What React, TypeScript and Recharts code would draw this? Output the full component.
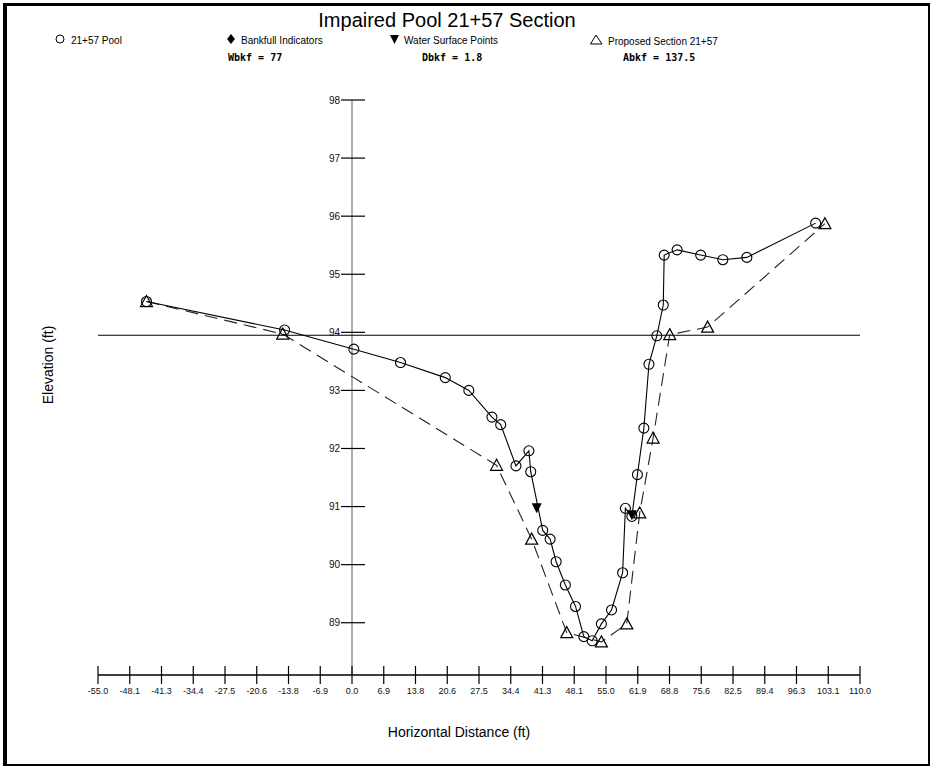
import { ComposedChart, Line, Scatter, XAxis, YAxis, ReferenceLine } from 'recharts';

// surveyed pool cross-section (ft)
const poolX = [-44.5, -14.6, 0.4, 10.5, 20.2, 25.3, 30.3, 32.2, 35.5, 38.3, 38.7, 41.3, 42.9, 44.2, 46.2, 48.4, 50.2, 52.0, 54.0, 56.2, 58.6, 59.2, 60.6, 61.8, 63.2, 64.3, 66.0, 67.4, 67.6, 70.4, 75.5, 80.3, 85.5, 100.4];
const poolY = [94.53, 94.04, 93.71, 93.48, 93.22, 93.0, 92.54, 92.41, 91.7, 91.96, 91.6, 90.59, 90.44, 90.05, 89.65, 89.28, 88.76, 88.69, 88.98, 89.22, 89.86, 90.97, 90.83, 91.55, 92.35, 93.45, 93.94, 94.47, 95.33, 95.42, 95.33, 95.25, 95.29, 95.88];

// proposed section
const propX = [-44.5, -15.0, 31.3, 38.9, 46.5, 54.0, 59.5, 62.3, 65.2, 68.8, 77.0, 102.4];
const propY = [94.53, 93.97, 91.71, 90.44, 88.83, 88.67, 88.98, 90.89, 92.18, 93.96, 94.09, 95.87];

// water surface points
const wsX = [40.0, 60.6];
const wsY = [90.97, 90.85];

const bankfullElev = 93.95;

const xTicks = [-55, -48.125, -41.25, -34.375, -27.5, -20.625, -13.75, -6.875, 0, 6.875, 13.75, 20.625, 27.5, 34.375, 41.25, 48.125, 55, 61.875, 68.75, 75.625, 82.5, 89.375, 96.25, 103.125, 110];
const xTickLabels = ['-55.0', '-48.1', '-41.3', '-34.4', '-27.5', '-20.6', '-13.8', '-6.9', '0.0', '6.9', '13.8', '20.6', '27.5', '34.4', '41.3', '48.1', '55.0', '61.9', '68.8', '75.6', '82.5', '89.4', '96.3', '103.1', '110.0'];
const yTicks = [89, 90, 91, 92, 93, 94, 95, 96, 97, 98];

const stats = ['Wbkf = 77', 'Dbkf = 1.8', 'Abkf = 137.5'];

const pool = poolX.map((x, i) => ({ x, y: poolY[i] }));
const proposed = propX.map((x, i) => ({ x, y: propY[i] }));
const water = wsX.map((x, i) => ({ x, y: wsY[i] }));

const W = 930;
const H = 768;
const Y_W = 20;
const M = { top: 100, right: 70, bottom: 33, left: 98 - Y_W };
const X_MIN = -55;
const X_MAX = 110;
const PLOT_L = M.left + Y_W;
const PLOT_W = W - PLOT_L - M.right;
const X0 = PLOT_L + ((0 - X_MIN) / (X_MAX - X_MIN)) * PLOT_W;

const font = 'Arial, "Liberation Sans", sans-serif';

function CircleDot(props: any) {
  const { cx, cy, index } = props;
  if (cx == null || cy == null) return <g key={`c${index}`} />;
  return <circle key={`c${index}`} cx={cx} cy={cy} r={5} fill="none" stroke="#000" strokeWidth={1.1} />;
}

function TriDot(props: any) {
  const { cx, cy, index } = props;
  if (cx == null || cy == null) return <g key={`t${index}`} />;
  return (
    <path
      key={`t${index}`}
      d={`M${cx},${cy - 6} L${cx + 6},${cy + 5} L${cx - 6},${cy + 5} Z`}
      fill="none"
      stroke="#000"
      strokeWidth={1.2}
    />
  );
}

function DownTri(props: any) {
  const { cx, cy } = props;
  return <path d={`M${cx - 5},${cy - 5} L${cx + 5},${cy - 5} L${cx},${cy + 5} Z`} fill="#000" />;
}

function XTick(props: any) {
  const { x, y, index } = props;
  return (
    <g>
      <line x1={x} x2={x} y1={y - 9} y2={y + 9} stroke="#000" strokeWidth={1.2} />
      <text x={x} y={y + 19} textAnchor="middle" fontSize={9} fontFamily={font} fill="#111">
        {xTickLabels[index]}
      </text>
    </g>
  );
}

function YTick(props: any) {
  const { y, payload } = props;
  return (
    <g>
      <line x1={X0 - 11} x2={X0 + 13} y1={y} y2={y} stroke="#000" strokeWidth={1.2} />
      <text x={X0 - 12} y={y + 3.5} textAnchor="end" fontSize={10} fontFamily={font} fill="#111">
        {payload.value}
      </text>
    </g>
  );
}

const legendStyle = { position: 'absolute' as const, top: 34, fontSize: 10, fontFamily: font, whiteSpace: 'nowrap' as const };

export default function App() {
  return (
    <div style={{ position: 'absolute', left: 0, top: 0, width: W, height: H, background: '#fff', overflow: 'hidden' }}>
      <div style={{ position: 'absolute', left: 3, top: 3, width: 921, height: 758, borderLeft: '4px solid #000', borderTop: '3px solid #000', borderRight: '2px solid #000', borderBottom: '2px solid #000' }} />
      <div style={{ position: 'absolute', top: 9, left: 0, width: 894, textAlign: 'center', fontSize: 20, fontFamily: font }}>
        Impaired Pool 21+57 Section
      </div>
      <div style={{ ...legendStyle, left: 55 }}>
        <svg width={12} height={10} style={{ marginRight: 4 }}><circle cx={5} cy={5} r={4} fill="none" stroke="#000" /></svg>21+57 Pool
      </div>
      <div style={{ ...legendStyle, left: 226 }}>
        <svg width={12} height={10} style={{ marginRight: 3 }}><path d="M5,0 L9,5 L5,10 L1,5 Z" fill="#000" /></svg>Bankfull Indicators
      </div>
      <div style={{ ...legendStyle, left: 389 }}>
        <svg width={12} height={10} style={{ marginRight: 3 }}><path d="M1,1 L10,1 L5.5,10 Z" fill="#000" /></svg>Water Surface Points
      </div>
      <div style={{ ...legendStyle, left: 590 }}>
        <svg width={14} height={11} style={{ marginRight: 4 }}><path d="M6,1 L12,10 L0.5,10 Z" fill="none" stroke="#000" /></svg>Proposed Section 21+57
      </div>
      {stats.map((s, i) => (
        <div key={s} style={{ position: 'absolute', top: 52, left: [228, 422, 623][i], fontSize: 10, fontWeight: 'bold', fontFamily: '"DejaVu Sans Mono", monospace' }}>
          {s}
        </div>
      ))}
      <div style={{ position: 'absolute', left: 48, top: 365, transform: 'translate(-50%, -50%) rotate(-90deg)', fontSize: 14, fontFamily: font, whiteSpace: 'nowrap' }}>
        Elevation (ft)
      </div>
      <div style={{ position: 'absolute', top: 724, left: 0, width: 918, textAlign: 'center', fontSize: 14, fontFamily: font }}>
        Horizontal Distance (ft)
      </div>
      <div style={{ position: 'absolute', left: 0, top: 0 }}>
        <ComposedChart width={W} height={H} margin={M}>
          <XAxis
            type="number"
            dataKey="x"
            domain={[X_MIN, X_MAX]}
            ticks={xTicks}
            interval={0}
            height={60}
            tickSize={0}
            tickMargin={0}
            tick={<XTick />}
            axisLine={{ stroke: '#000', strokeWidth: 1.3 }}
            tickLine={false}
            allowDataOverflow
          />
          <YAxis
            type="number"
            dataKey="y"
            domain={[88.1, 98]}
            ticks={yTicks}
            interval={0}
            width={Y_W}
            tick={<YTick />}
            axisLine={false}
            tickLine={false}
            allowDataOverflow
          />
          <ReferenceLine x={0} stroke="#777" strokeWidth={1.2} />
          <ReferenceLine y={bankfullElev} stroke="#000" strokeWidth={1.2} />
          <Line
            data={proposed}
            dataKey="y"
            type="linear"
            stroke="#222"
            strokeWidth={1.1}
            strokeDasharray="13 7"
            dot={TriDot}
            activeDot={false}
            isAnimationActive={false}
          />
          <Line
            data={pool}
            dataKey="y"
            type="linear"
            stroke="#000"
            strokeWidth={1.1}
            dot={CircleDot}
            activeDot={false}
            isAnimationActive={false}
          />
          <Scatter data={water} dataKey="y" shape={DownTri} isAnimationActive={false} />
        </ComposedChart>
      </div>
    </div>
  );
}
